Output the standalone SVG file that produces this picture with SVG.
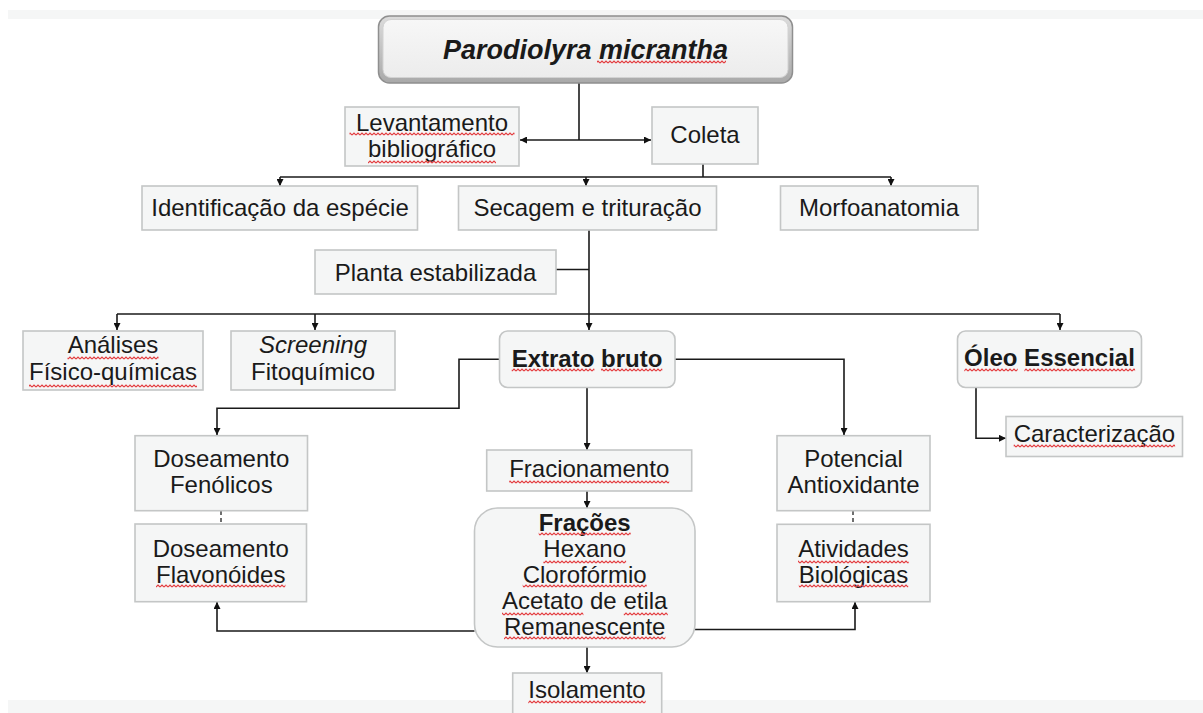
<svg xmlns="http://www.w3.org/2000/svg" width="1203" height="713" viewBox="0 0 1203 713">
<defs>
<style>
.box{fill:#f5f6f6;stroke:#c4c6c6;stroke-width:1.6}
.t{font-family:"Liberation Sans",Arial,sans-serif;font-size:24px;fill:#1a1a1a;text-anchor:middle}
.b{font-weight:bold}
.i{font-style:italic}
.c{fill:none;stroke:#1a1a1a;stroke-width:1.6}
.d{fill:none;stroke:#333;stroke-width:1.4;stroke-dasharray:4 3}
.sq{fill:url(#wave)}
</style>
<marker id="ah" viewBox="0 0 8 8" refX="8" refY="4" markerWidth="7" markerHeight="7" markerUnits="userSpaceOnUse" orient="auto">
<path d="M0,0 L8,4 L0,8 z" fill="#111"/>
</marker>
<pattern id="wave" patternUnits="userSpaceOnUse" x="0" y="0" width="4" height="4">
<path d="M0,3 L2,1 L4,3" fill="none" stroke="#e3393c" stroke-width="1.1"/>
</pattern>
<linearGradient id="bevel" x1="0" y1="0" x2="0" y2="1">
<stop offset="0" stop-color="#dcdcdc"/>
<stop offset="1" stop-color="#a9a9a9"/>
</linearGradient>
<linearGradient id="inner" x1="0" y1="0" x2="0" y2="1">
<stop offset="0" stop-color="#f7f7f7"/>
<stop offset="1" stop-color="#ececec"/>
</linearGradient>
</defs>
<rect x="0" y="0" width="1203" height="713" fill="#ffffff"/>
<rect x="8" y="10" width="1195" height="9" fill="#f5f6f6"/>
<rect x="8" y="700" width="1195" height="13" fill="#f5f6f6"/>

<g id="connectors">
<path class="c" d="M579,83 V140"/>
<path class="c" d="M579,140 H520" marker-end="url(#ah)"/>
<path class="c" d="M579,140 H651" marker-end="url(#ah)"/>
<path class="c" d="M703,164 V177"/>
<path class="c" d="M280,177 H891"/>
<path class="c" d="M280,177 V186" marker-end="url(#ah)"/>
<path class="c" d="M586,177 V186" marker-end="url(#ah)"/>
<path class="c" d="M891,177 V186" marker-end="url(#ah)"/>
<path class="c" d="M589,230 V314"/>
<path class="c" d="M556,269.5 H589"/>
<path class="c" d="M117,314 H1060"/>
<path class="c" d="M117,314 V330" marker-end="url(#ah)"/>
<path class="c" d="M315,314 V330" marker-end="url(#ah)"/>
<path class="c" d="M589,314 V330" marker-end="url(#ah)"/>
<path class="c" d="M1060,314 V330" marker-end="url(#ah)"/>
<path class="c" d="M499,359.3 H459 V408.3 H217 V435" marker-end="url(#ah)"/>
<path class="c" d="M675,359.3 H844 V435" marker-end="url(#ah)"/>
<path class="c" d="M587,387.3 V450" marker-end="url(#ah)"/>
<path class="c" d="M976,387.5 V438.3 H1006" marker-end="url(#ah)"/>
<path class="c" d="M587,491 V508" marker-end="url(#ah)"/>
<path class="c" d="M474.5,631 H217 V602" marker-end="url(#ah)"/>
<path class="c" d="M695,629.5 H855 V602" marker-end="url(#ah)"/>
<path class="c" d="M587,647 V673" marker-end="url(#ah)"/>
<path class="d" d="M221,511 V524"/>
<path class="d" d="M853,511 V524"/>
</g>

<g id="n-title">
<rect x="378.5" y="16" width="414" height="67" rx="11" fill="url(#bevel)" stroke="#8f8f8f" stroke-width="1.5"/>
<rect x="383" y="19.5" width="405" height="58" rx="8" fill="url(#inner)" stroke="#d2d2d2" stroke-width="1"/>
<text class="t b i" x="585.5" y="59" style="font-size:27px">Parodiolyra micrantha</text>
</g>
<g id="n-levantamento">
<rect class="box" x="345" y="107" width="174" height="59"/>
<text class="t" x="432" y="131">Levantamento</text>
<text class="t" x="432" y="157">bibliográfico</text>
</g>
<g id="n-coleta">
<rect class="box" x="652" y="107" width="106" height="57"/>
<text class="t" x="705" y="143">Coleta</text>
</g>
<g id="n-identificacao">
<rect class="box" x="142" y="186" width="275.5" height="44"/>
<text class="t" x="280" y="216">Identificação da espécie</text>
</g>
<g id="n-secagem">
<rect class="box" x="458.5" y="186" width="258" height="44"/>
<text class="t" x="587.5" y="216">Secagem e trituração</text>
</g>
<g id="n-morfoanatomia">
<rect class="box" x="780.5" y="186" width="197.5" height="44"/>
<text class="t" x="879" y="216">Morfoanatomia</text>
</g>
<g id="n-planta">
<rect class="box" x="315" y="250" width="241" height="44"/>
<text class="t" x="435.5" y="281">Planta estabilizada</text>
</g>
<g id="n-analises">
<rect class="box" x="23" y="331" width="180" height="59"/>
<text class="t" x="113" y="353">Análises</text>
<text class="t" x="113" y="380">Físico-químicas</text>
</g>
<g id="n-screening">
<rect class="box" x="231" y="331" width="164" height="59"/>
<text class="t i" x="313" y="353">Screening</text>
<text class="t" x="313" y="380">Fitoquímico</text>
</g>
<g id="n-extrato">
<rect class="box" x="499.5" y="331" width="175.5" height="56.5" rx="8"/>
<text class="t b" x="587" y="367">Extrato bruto</text>
</g>
<g id="n-oleo">
<rect class="box" x="957.5" y="331" width="184" height="56.5" rx="8"/>
<text class="t b" x="1049.5" y="366">Óleo Essencial</text>
</g>
<g id="n-caracterizacao">
<rect class="box" x="1006" y="416.5" width="176.5" height="40"/>
<text class="t" x="1094.4" y="442">Caracterização</text>
</g>
<g id="n-fenolicos">
<rect class="box" x="135" y="435.7" width="172.5" height="75"/>
<text class="t" x="221.3" y="466.7">Doseamento</text>
<text class="t" x="221.3" y="492.7">Fenólicos</text>
</g>
<g id="n-flavonoides">
<rect class="box" x="135" y="524" width="171.5" height="77.7"/>
<text class="t" x="220.7" y="556.7">Doseamento</text>
<text class="t" x="220.7" y="583">Flavonóides</text>
</g>
<g id="n-fracionamento">
<rect class="box" x="486.7" y="450" width="205" height="41"/>
<text class="t" x="589.2" y="476.7">Fracionamento</text>
</g>
<g id="n-fracoes">
<rect class="box" x="474.5" y="508" width="220.5" height="139" rx="23"/>
<text class="t b" x="584.7" y="531">Frações</text>
<text class="t" x="584.7" y="557">Hexano</text>
<text class="t" x="584.7" y="583">Clorofórmio</text>
<text class="t" x="584.7" y="609">Acetato de etila</text>
<text class="t" x="584.7" y="635">Remanescente</text>
</g>
<g id="n-isolamento">
<rect class="box" x="512.7" y="673" width="149" height="50"/>
<text class="t" x="587" y="698">Isolamento</text>
</g>
<g id="n-potencial">
<rect class="box" x="777" y="435.7" width="153" height="75"/>
<text class="t" x="853.5" y="466.7">Potencial</text>
<text class="t" x="853.5" y="492.7">Antioxidante</text>
</g>
<g id="n-atividades">
<rect class="box" x="777" y="524.3" width="153" height="77.4"/>
<text class="t" x="853.5" y="556.7">Atividades</text>
<text class="t" x="853.5" y="583.3">Biológicas</text>
</g>

<g id="spellcheck">
<rect class="sq" x="597" y="60" width="129" height="4"/>
<rect class="sq" x="349.5" y="132" width="165" height="4"/>
<rect class="sq" x="368" y="160" width="128" height="4"/>
<rect class="sq" x="67.5" y="356" width="91" height="4"/>
<rect class="sq" x="29" y="384" width="168" height="4"/>
<rect class="sq" x="511.7" y="368" width="82.7" height="4"/>
<rect class="sq" x="601" y="368" width="61.3" height="4"/>
<rect class="sq" x="964.3" y="368" width="53.4" height="4"/>
<rect class="sq" x="1024.4" y="368" width="110.7" height="4"/>
<rect class="sq" x="1013.7" y="444" width="161.4" height="4"/>
<rect class="sq" x="156" y="584" width="129.4" height="4"/>
<rect class="sq" x="509.2" y="480" width="160" height="4"/>
<rect class="sq" x="538.7" y="532" width="92" height="4"/>
<rect class="sq" x="543.4" y="560" width="82.7" height="4"/>
<rect class="sq" x="522.7" y="584" width="124" height="4"/>
<rect class="sq" x="502" y="612" width="81.4" height="4"/>
<rect class="sq" x="623.8" y="612" width="44" height="4"/>
<rect class="sq" x="504" y="636" width="161.4" height="4"/>
<rect class="sq" x="798" y="560" width="110.7" height="4"/>
<rect class="sq" x="798.8" y="584" width="109.4" height="4"/>
<rect class="sq" x="528.3" y="700" width="117.4" height="4"/>
</g>
</svg>
